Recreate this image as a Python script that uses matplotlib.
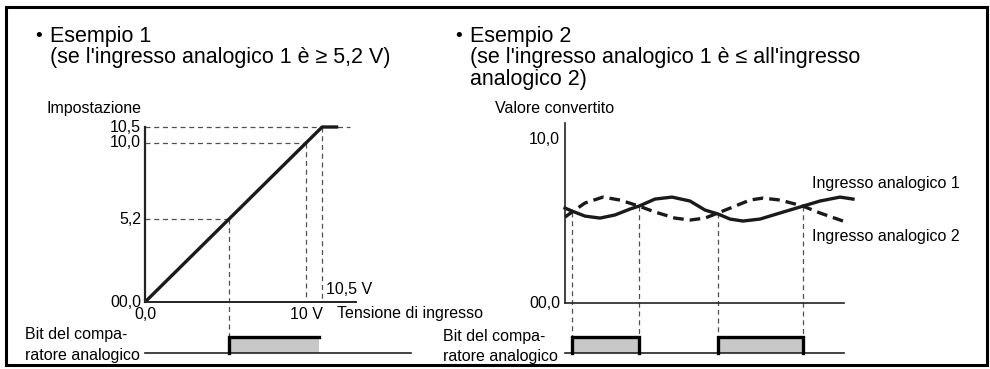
import numpy as np
import matplotlib.pyplot as plt
from matplotlib.patches import Rectangle

plt.rcParams['font.family'] = ['Liberation Sans', 'DejaVu Sans']

W, H = 990, 369

# Esempio 1: input voltage (V) -> setting value
volt_in = [0.0, 5.2, 10.0, 10.5, 11.0]
setting = [0.0, 5.2, 10.0, 10.5, 10.5]
y_ticks1 = [0.0, 5.2, 10.0, 10.5]
y_labels1 = ["00,0", "5,2", "10,0", "10,5"]
x_ticks1 = [0.0, 10.0]
x_labels1 = ["0,0", "10 V"]
pulse1 = (5.2, 10.4)

# Esempio 2: converted values of the two analog inputs over time
t_in1 = [0, 0.7, 2.0, 3.5, 5.0, 6.5, 7.4, 9.0, 10.7, 12.5, 14.0, 15.3, 16.5,
         17.8, 19.5, 21.5, 23.8, 25.5, 27.5, 28.8]
in1 = [5.79, 5.61, 5.30, 5.18, 5.37, 5.73, 5.91, 6.34, 6.46, 6.22, 5.67, 5.43,
       5.12, 5.00, 5.12, 5.49, 5.91, 6.22, 6.46, 6.34]
t_in2 = [0, 0.7, 2.0, 3.8, 5.5, 7.4, 9.0, 11.0, 12.5, 14.0, 15.3, 17.0, 18.5,
         19.8, 21.5, 23.8, 25.5, 27.8]
in2 = [5.24, 5.55, 6.10, 6.46, 6.28, 5.91, 5.55, 5.18, 5.06, 5.18, 5.49, 5.91,
       6.28, 6.40, 6.28, 5.91, 5.49, 5.00]
cross_t = [0.7, 7.4, 15.3, 23.8]
cross_v = [5.58, 5.91, 5.46, 5.91]
pulses2 = [(0.7, 7.4), (15.3, 23.8)]

GREY = '#c8c8c8'
GUIDE = dict(color='#505050', lw=0.9, dashes=(4, 3), clip_on=False)
LAB = 11.5
TIT = 15.5


def fwd(v):
    v = np.asarray(v, dtype=float)
    return np.where(v > 10, 10 + 2 * (v - 10), v)


def inv(u):
    u = np.asarray(u, dtype=float)
    return np.where(u > 10, 10 + (u - 10) / 2, u)


def rect(x0, y0, x1, y1):
    return [x0 / W, 1 - y1 / H, (x1 - x0) / W, (y1 - y0) / H]


def ftext(x, y, s, **kw):
    kw.setdefault('fontsize', LAB)
    kw.setdefault('va', 'baseline')
    fig.text(x / W, 1 - y / H, s, **kw)


def pulse(ax, on, off, low, high, right_edge):
    ax.fill_between([on, off], low, high, color=GREY, lw=0, clip_on=False)
    xs = [on, on, off, off] if right_edge else [on, on, off]
    ys = [low, high, high, low] if right_edge else [low, high, high]
    ax.plot(xs, ys, color='black', lw=2.4, solid_joinstyle='miter', clip_on=False)


fig = plt.figure(figsize=(W / 100, H / 100), dpi=100)

# ---- Esempio 1 ----
ax1 = fig.add_axes(rect(145, 127, 411, 353))
ax1.set_xscale('function', functions=(fwd, inv))
ax1.set_yscale('function', functions=(fwd, inv))
ax1.set_xlim(0, 13.26)
ax1.set_ylim(-3.2, 10.5)
low1, high1 = -3.2, -2.2

ax1.plot([0, 11.37], [10.5, 10.5], **GUIDE)
ax1.plot([0, 10.0], [10.0, 10.0], **GUIDE)
ax1.plot([0, 5.2], [5.2, 5.2], **GUIDE)
ax1.plot([5.2, 5.2], [5.2, high1], **GUIDE)
ax1.plot([10.0, 10.0], [10.0, 0], **GUIDE)
ax1.plot([10.5, 10.5], [10.5, 0], **GUIDE)

ax1.plot(volt_in, setting, color='#1a1a1a', lw=2.4, clip_on=False,
         solid_capstyle='butt')
ax1.plot([0, 11.55], [0, 0], color='#222222', lw=1.4, clip_on=False)
ax1.plot([0, 0], [0, 10.5], color='#222222', lw=1.6, clip_on=False)

for v, s in zip(y_ticks1, y_labels1):
    ax1.annotate(s, (0, v), xytext=(-4, 0), textcoords='offset pixels',
                 ha='right', va='center', fontsize=LAB)
for v, s in zip(x_ticks1, x_labels1):
    ax1.annotate(s, (v, 0), xytext=(0, -5), textcoords='offset pixels',
                 ha='center', va='top', fontsize=LAB)
ax1.annotate("10,5 V", (10.5, 0), xytext=(4, 5), textcoords='offset pixels',
             ha='left', va='bottom', fontsize=LAB)

ax1.plot([0, 13.26], [low1, low1], color='#222222', lw=1.2, clip_on=False)
pulse(ax1, pulse1[0], pulse1[1], low1, high1, right_edge=False)
ax1.axis('off')

# ---- Esempio 2 ----
ax2 = fig.add_axes(rect(565, 123, 844, 353))
ax2.set_xlim(0, 27.9)
ax2.set_ylim(-3.05, 10.98)
low2, high2 = -3.05, -2.07

for tc, vc in zip(cross_t, cross_v):
    ax2.plot([tc, tc], [vc, high2], **GUIDE)

ax2.plot(t_in1, in1, color='#1a1a1a', lw=2.4, clip_on=False)
ax2.plot(t_in2, in2, color='#1a1a1a', lw=2.4, dashes=(3.2, 1.8), clip_on=False)
ax2.plot([0, 27.9], [0, 0], color='#222222', lw=1.2, clip_on=False)
ax2.plot([0, 0], [0, 10.98], color='#222222', lw=1.2, clip_on=False)
ax2.annotate("10,0", (0, 10), xytext=(-5, 0), textcoords='offset pixels',
             ha='right', va='center', fontsize=LAB)
ax2.annotate("00,0", (0, 0), xytext=(-5, 0), textcoords='offset pixels',
             ha='right', va='center', fontsize=LAB)

ax2.plot([0, 27.9], [low2, low2], color='#222222', lw=1.2, clip_on=False)
for on, off in pulses2:
    pulse(ax2, on, off, low2, high2, right_edge=True)
ax2.axis('off')

# ---- texts ----
ftext(35, 41, "•", fontsize=14)
ftext(50, 42, "Esempio 1", fontsize=TIT)
ftext(50, 63, "(se l'ingresso analogico 1 è ≥ 5,2 V)", fontsize=TIT)
ftext(47, 113, "Impostazione")
ftext(337, 318, "Tensione di ingresso")
ftext(25, 339, "Bit del compa-")
ftext(25, 360, "ratore analogico")

ftext(455, 41, "•", fontsize=14)
ftext(470, 42, "Esempio 2", fontsize=TIT)
ftext(470, 63, "(se l'ingresso analogico 1 è ≤ all'ingresso", fontsize=TIT)
ftext(470, 85, "analogico 2)", fontsize=TIT)
ftext(495, 113, "Valore convertito")
ftext(812, 188, "Ingresso analogico 1")
ftext(812, 241, "Ingresso analogico 2")
ftext(443, 341, "Bit del compa-")
ftext(443, 361, "ratore analogico")

fig.add_artist(Rectangle((6 / W, 1 - 365 / H), 981 / W, 358 / H,
                         transform=fig.transFigure, fill=False, lw=2.2,
                         ec='black'))

fig.savefig("out.png", dpi=100)
